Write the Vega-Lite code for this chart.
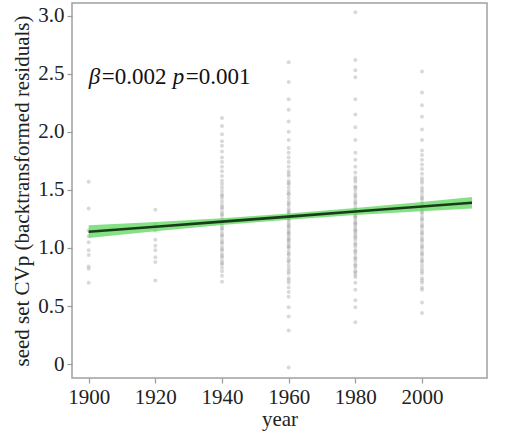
{
  "$schema": "https://vega.github.io/schema/vega-lite/v6.json",
  "width": 415,
  "height": 375,
  "autosize": "none",
  "padding": {"left": 72, "top": 3, "right": 19, "bottom": 61},
  "background": "white",
  "config": {
    "view": {"stroke": "#a0a0a0", "strokeWidth": 1.5},
    "font": "Liberation Serif",
    "axis": {
      "grid": false,
      "domain": false,
      "tickColor": "#999999",
      "tickSize": 5,
      "tickWidth": 1.2,
      "labelFont": "Liberation Serif",
      "labelFontSize": 21,
      "labelColor": "#222222",
      "titleFont": "Liberation Serif",
      "titleFontSize": 21,
      "titleFontWeight": "normal",
      "titleColor": "#222222"
    }
  },
  "datasets": {
    "pts": [
      {"year": 1900, "cv": 1.57}, {"year": 1900, "cv": 1.34}, {"year": 1900, "cv": 1.15}, {"year": 1900, "cv": 1.10}, {"year": 1900, "cv": 1.05}, {"year": 1900, "cv": 0.98}, {"year": 1900, "cv": 0.94}, {"year": 1900, "cv": 0.84}, {"year": 1900, "cv": 0.82}, {"year": 1900, "cv": 0.70},
      {"year": 1920, "cv": 1.33}, {"year": 1920, "cv": 1.20}, {"year": 1920, "cv": 1.15}, {"year": 1920, "cv": 1.07}, {"year": 1920, "cv": 1.02}, {"year": 1920, "cv": 0.98}, {"year": 1920, "cv": 0.92}, {"year": 1920, "cv": 0.88}, {"year": 1920, "cv": 0.72},
      {"year": 1940, "cv": 2.12}, {"year": 1940, "cv": 2.05}, {"year": 1940, "cv": 1.98}, {"year": 1940, "cv": 1.92}, {"year": 1940, "cv": 1.88}, {"year": 1940, "cv": 1.83}, {"year": 1940, "cv": 1.78}, {"year": 1940, "cv": 1.74}, {"year": 1940, "cv": 1.70}, {"year": 1940, "cv": 1.66}, {"year": 1940, "cv": 1.62}, {"year": 1940, "cv": 1.58}, {"year": 1940, "cv": 1.55}, {"year": 1940, "cv": 1.52}, {"year": 1940, "cv": 1.49}, {"year": 1940, "cv": 1.46}, {"year": 1940, "cv": 1.43}, {"year": 1940, "cv": 1.40}, {"year": 1940, "cv": 1.37}, {"year": 1940, "cv": 1.34}, {"year": 1940, "cv": 1.31}, {"year": 1940, "cv": 1.28}, {"year": 1940, "cv": 1.25}, {"year": 1940, "cv": 1.22}, {"year": 1940, "cv": 1.19}, {"year": 1940, "cv": 1.16}, {"year": 1940, "cv": 1.13}, {"year": 1940, "cv": 1.10}, {"year": 1940, "cv": 1.07}, {"year": 1940, "cv": 1.04}, {"year": 1940, "cv": 1.01}, {"year": 1940, "cv": 0.98}, {"year": 1940, "cv": 0.95}, {"year": 1940, "cv": 0.92}, {"year": 1940, "cv": 0.89}, {"year": 1940, "cv": 0.86}, {"year": 1940, "cv": 0.83}, {"year": 1940, "cv": 0.80}, {"year": 1940, "cv": 0.76}, {"year": 1940, "cv": 0.71},
      {"year": 1940, "cv": 1.45}, {"year": 1940, "cv": 1.35}, {"year": 1940, "cv": 1.29}, {"year": 1940, "cv": 1.21}, {"year": 1940, "cv": 1.17}, {"year": 1940, "cv": 1.11}, {"year": 1940, "cv": 1.05}, {"year": 1940, "cv": 0.99}, {"year": 1940, "cv": 0.93}, {"year": 1940, "cv": 0.87},
      {"year": 1960, "cv": 2.60}, {"year": 1960, "cv": 2.43}, {"year": 1960, "cv": 2.28}, {"year": 1960, "cv": 2.19}, {"year": 1960, "cv": 2.09}, {"year": 1960, "cv": 2.00}, {"year": 1960, "cv": 1.93}, {"year": 1960, "cv": 1.82}, {"year": 1960, "cv": 1.78}, {"year": 1960, "cv": 1.74}, {"year": 1960, "cv": 1.70}, {"year": 1960, "cv": 1.66}, {"year": 1960, "cv": 1.62}, {"year": 1960, "cv": 1.58}, {"year": 1960, "cv": 1.55}, {"year": 1960, "cv": 1.52}, {"year": 1960, "cv": 1.49}, {"year": 1960, "cv": 1.46}, {"year": 1960, "cv": 1.43}, {"year": 1960, "cv": 1.40}, {"year": 1960, "cv": 1.37}, {"year": 1960, "cv": 1.34}, {"year": 1960, "cv": 1.32}, {"year": 1960, "cv": 1.30}, {"year": 1960, "cv": 1.28}, {"year": 1960, "cv": 1.26}, {"year": 1960, "cv": 1.24}, {"year": 1960, "cv": 1.22}, {"year": 1960, "cv": 1.20}, {"year": 1960, "cv": 1.18}, {"year": 1960, "cv": 1.16}, {"year": 1960, "cv": 1.14}, {"year": 1960, "cv": 1.12}, {"year": 1960, "cv": 1.10}, {"year": 1960, "cv": 1.08}, {"year": 1960, "cv": 1.06}, {"year": 1960, "cv": 1.04}, {"year": 1960, "cv": 1.02}, {"year": 1960, "cv": 1.00}, {"year": 1960, "cv": 0.97}, {"year": 1960, "cv": 0.94}, {"year": 1960, "cv": 0.91}, {"year": 1960, "cv": 0.88}, {"year": 1960, "cv": 0.85}, {"year": 1960, "cv": 0.82}, {"year": 1960, "cv": 0.78}, {"year": 1960, "cv": 0.74}, {"year": 1960, "cv": 0.70}, {"year": 1960, "cv": 0.66}, {"year": 1960, "cv": 0.58}, {"year": 1960, "cv": 0.49}, {"year": 1960, "cv": 0.41}, {"year": 1960, "cv": 0.29}, {"year": 1960, "cv": -0.03},
      {"year": 1960, "cv": 1.86}, {"year": 1960, "cv": 1.64}, {"year": 1960, "cv": 1.56}, {"year": 1960, "cv": 1.47}, {"year": 1960, "cv": 1.38}, {"year": 1960, "cv": 1.31}, {"year": 1960, "cv": 1.25}, {"year": 1960, "cv": 1.19}, {"year": 1960, "cv": 1.13}, {"year": 1960, "cv": 1.07}, {"year": 1960, "cv": 1.01}, {"year": 1960, "cv": 0.95}, {"year": 1960, "cv": 0.89}, {"year": 1960, "cv": 0.80}, {"year": 1960, "cv": 0.72}, {"year": 1960, "cv": 0.62},
      {"year": 1980, "cv": 3.03}, {"year": 1980, "cv": 2.62}, {"year": 1980, "cv": 2.53}, {"year": 1980, "cv": 2.47}, {"year": 1980, "cv": 2.28}, {"year": 1980, "cv": 2.15}, {"year": 1980, "cv": 2.04}, {"year": 1980, "cv": 1.93}, {"year": 1980, "cv": 1.82}, {"year": 1980, "cv": 1.70}, {"year": 1980, "cv": 1.65}, {"year": 1980, "cv": 1.61}, {"year": 1980, "cv": 1.57}, {"year": 1980, "cv": 1.53}, {"year": 1980, "cv": 1.50}, {"year": 1980, "cv": 1.47}, {"year": 1980, "cv": 1.44}, {"year": 1980, "cv": 1.41}, {"year": 1980, "cv": 1.38}, {"year": 1980, "cv": 1.35}, {"year": 1980, "cv": 1.32}, {"year": 1980, "cv": 1.30}, {"year": 1980, "cv": 1.28}, {"year": 1980, "cv": 1.26}, {"year": 1980, "cv": 1.24}, {"year": 1980, "cv": 1.22}, {"year": 1980, "cv": 1.20}, {"year": 1980, "cv": 1.18}, {"year": 1980, "cv": 1.16}, {"year": 1980, "cv": 1.14}, {"year": 1980, "cv": 1.12}, {"year": 1980, "cv": 1.10}, {"year": 1980, "cv": 1.07}, {"year": 1980, "cv": 1.04}, {"year": 1980, "cv": 1.01}, {"year": 1980, "cv": 0.98}, {"year": 1980, "cv": 0.95}, {"year": 1980, "cv": 0.92}, {"year": 1980, "cv": 0.89}, {"year": 1980, "cv": 0.86}, {"year": 1980, "cv": 0.83}, {"year": 1980, "cv": 0.80}, {"year": 1980, "cv": 0.77}, {"year": 1980, "cv": 0.75}, {"year": 1980, "cv": 0.70}, {"year": 1980, "cv": 0.64}, {"year": 1980, "cv": 0.55}, {"year": 1980, "cv": 0.49}, {"year": 1980, "cv": 0.36},
      {"year": 1980, "cv": 1.76}, {"year": 1980, "cv": 1.59}, {"year": 1980, "cv": 1.52}, {"year": 1980, "cv": 1.45}, {"year": 1980, "cv": 1.39}, {"year": 1980, "cv": 1.33}, {"year": 1980, "cv": 1.27}, {"year": 1980, "cv": 1.21}, {"year": 1980, "cv": 1.15}, {"year": 1980, "cv": 1.09}, {"year": 1980, "cv": 1.03}, {"year": 1980, "cv": 0.97}, {"year": 1980, "cv": 0.91}, {"year": 1980, "cv": 0.85}, {"year": 1980, "cv": 0.79},
      {"year": 2000, "cv": 2.52}, {"year": 2000, "cv": 2.34}, {"year": 2000, "cv": 2.23}, {"year": 2000, "cv": 2.13}, {"year": 2000, "cv": 2.02}, {"year": 2000, "cv": 1.93}, {"year": 2000, "cv": 1.84}, {"year": 2000, "cv": 1.80}, {"year": 2000, "cv": 1.76}, {"year": 2000, "cv": 1.72}, {"year": 2000, "cv": 1.68}, {"year": 2000, "cv": 1.64}, {"year": 2000, "cv": 1.60}, {"year": 2000, "cv": 1.56}, {"year": 2000, "cv": 1.52}, {"year": 2000, "cv": 1.48}, {"year": 2000, "cv": 1.45}, {"year": 2000, "cv": 1.42}, {"year": 2000, "cv": 1.39}, {"year": 2000, "cv": 1.36}, {"year": 2000, "cv": 1.33}, {"year": 2000, "cv": 1.30}, {"year": 2000, "cv": 1.27}, {"year": 2000, "cv": 1.24}, {"year": 2000, "cv": 1.21}, {"year": 2000, "cv": 1.18}, {"year": 2000, "cv": 1.15}, {"year": 2000, "cv": 1.12}, {"year": 2000, "cv": 1.09}, {"year": 2000, "cv": 1.06}, {"year": 2000, "cv": 1.03}, {"year": 2000, "cv": 1.00}, {"year": 2000, "cv": 0.97}, {"year": 2000, "cv": 0.94}, {"year": 2000, "cv": 0.91}, {"year": 2000, "cv": 0.88}, {"year": 2000, "cv": 0.85}, {"year": 2000, "cv": 0.82}, {"year": 2000, "cv": 0.78}, {"year": 2000, "cv": 0.74}, {"year": 2000, "cv": 0.70}, {"year": 2000, "cv": 0.66}, {"year": 2000, "cv": 0.64}, {"year": 2000, "cv": 0.53}, {"year": 2000, "cv": 0.44},
      {"year": 2000, "cv": 1.58}, {"year": 2000, "cv": 1.50}, {"year": 2000, "cv": 1.43}, {"year": 2000, "cv": 1.37}, {"year": 2000, "cv": 1.31}, {"year": 2000, "cv": 1.25}, {"year": 2000, "cv": 1.19}, {"year": 2000, "cv": 1.13}, {"year": 2000, "cv": 1.07}, {"year": 2000, "cv": 1.01}, {"year": 2000, "cv": 0.95}, {"year": 2000, "cv": 0.89}, {"year": 2000, "cv": 0.80}, {"year": 2000, "cv": 0.72}
    ],
    "fit": [
      {"year": 1900, "fit": 1.140, "lo": 1.085, "hi": 1.195},
      {"year": 1920, "fit": 1.183, "lo": 1.143, "hi": 1.223},
      {"year": 1940, "fit": 1.227, "lo": 1.197, "hi": 1.257},
      {"year": 1960, "fit": 1.270, "lo": 1.244, "hi": 1.296},
      {"year": 1980, "fit": 1.314, "lo": 1.284, "hi": 1.344},
      {"year": 2000, "fit": 1.357, "lo": 1.317, "hi": 1.397},
      {"year": 2015, "fit": 1.390, "lo": 1.340, "hi": 1.440}
    ],
    "ann": [
      {"year": 1900, "y": 2.47, "part": "β"},
      {"year": 1900, "y": 2.47, "part": "=0.002"},
      {"year": 1900, "y": 2.47, "part": "p"},
      {"year": 1900, "y": 2.47, "part": "=0.001"}
    ]
  },
  "encoding": {
    "x": {
      "field": "year", "type": "quantitative",
      "scale": {"domain": [1895, 2019.5], "nice": false, "zero": false},
      "axis": {"values": [1900, 1920, 1940, 1960, 1980, 2000], "format": "d", "title": "year", "labelPadding": 3, "titlePadding": 1}
    }
  },
  "layer": [
    {
      "data": {"name": "pts"},
      "mark": {"type": "circle", "size": 16, "color": "#a0a0a0", "opacity": 0.4},
      "encoding": {
        "y": {
          "field": "cv", "type": "quantitative",
          "scale": {"domain": [-0.12, 3.11], "nice": false, "zero": false},
          "axis": {"values": [0, 0.5, 1, 1.5, 2, 2.5, 3], "labelExpr": "datum.value == 0 ? '0' : format(datum.value, '.1f')", "title": "seed set CVp (backtransformed residuals)", "labelPadding": 3, "titlePadding": 5}
        }
      }
    },
    {
      "data": {"name": "fit"},
      "mark": {"type": "area", "color": "#5ed65e", "opacity": 0.75},
      "encoding": {
        "y": {"field": "lo", "type": "quantitative"},
        "y2": {"field": "hi"}
      }
    },
    {
      "data": {"name": "fit"},
      "mark": {"type": "line", "color": "#173d17", "strokeWidth": 2.6},
      "encoding": {
        "y": {"field": "fit", "type": "quantitative"}
      }
    },
    {
      "data": {"name": "ann"},
      "transform": [{"filter": "datum.part == 'β'"}],
      "mark": {"type": "text", "align": "left", "baseline": "middle", "font": "Liberation Serif", "fontSize": 23, "fontStyle": "italic", "color": "#111111"},
      "encoding": {"y": {"field": "y", "type": "quantitative"}, "text": {"field": "part"}}
    },
    {
      "data": {"name": "ann"},
      "transform": [{"filter": "datum.part == '=0.002'"}],
      "mark": {"type": "text", "align": "left", "baseline": "middle", "dx": 13, "font": "Liberation Serif", "fontSize": 23, "color": "#111111"},
      "encoding": {"y": {"field": "y", "type": "quantitative"}, "text": {"field": "part"}}
    },
    {
      "data": {"name": "ann"},
      "transform": [{"filter": "datum.part == 'p'"}],
      "mark": {"type": "text", "align": "left", "baseline": "middle", "dx": 84, "font": "Liberation Serif", "fontSize": 23, "fontStyle": "italic", "color": "#111111"},
      "encoding": {"y": {"field": "y", "type": "quantitative"}, "text": {"field": "part"}}
    },
    {
      "data": {"name": "ann"},
      "transform": [{"filter": "datum.part == '=0.001'"}],
      "mark": {"type": "text", "align": "left", "baseline": "middle", "dx": 97, "font": "Liberation Serif", "fontSize": 23, "color": "#111111"},
      "encoding": {"y": {"field": "y", "type": "quantitative"}, "text": {"field": "part"}}
    }
  ]
}
